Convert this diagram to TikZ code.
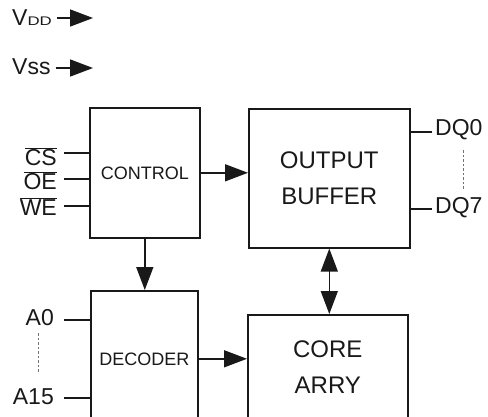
\documentclass[tikz,border=0pt]{standalone}
\usepackage{fontspec}
\setmainfont{Liberation Sans}
\usetikzlibrary{arrows.meta,calc}
\newcommand{\barlbl}[1]{\ensuremath{\overline{\hbox{#1}}}}
\begin{document}
\begin{tikzpicture}[x=1pt,y=-1pt,
  every node/.style={text=black!90},
  box/.style={draw=black!90,line width=1.6pt,inner sep=0pt,align=center,anchor=north west},
  small/.style={font=\fontsize{18}{20}\selectfont},
  big/.style={font=\fontsize{24}{36}\selectfont},
  lbl/.style={font=\fontsize{23}{25}\selectfont,inner sep=0pt},
  wire/.style={draw=black!90,line width=1.5pt},
  arr/.style={wire,-{Triangle[length=23pt,width=17pt]}},
  darr/.style={wire,{Triangle[length=23pt,width=17pt]}-{Triangle[length=23pt,width=17pt]}},
  dots/.style={draw=black!55,line width=0.9pt,dash pattern=on 2.5pt off 2pt}]
\useasboundingbox (0,0) rectangle (488,416);
\clip (0,0) rectangle (488,416);
\fill[white] (0,0) rectangle (488,416);
% power labels
\node[lbl,anchor=west] (vdd) at (12,18) {V\scalebox{1.05}[0.78]{\fontsize{16}{17}\selectfont DD}};
\coordinate (vddtip) at (93,18);
\draw[arr] (vdd.east) ++(5,0) coordinate (vdds) -- (vddtip);
\node[lbl,anchor=west] (vss) at (12,66.5) {Vss};
\coordinate (vsstip) at (93,68);
\draw[arr] (vss.east |- vsstip) ++(5,0) -- (vsstip);
% boxes
\node[box,small,minimum width=110pt,minimum height=130pt] (control) at (89,107) {CONTROL};
\node[box,big,minimum width=161pt,minimum height=139pt] (output) at (248,108) {OUTPUT\\BUFFER};
\node[box,small,minimum width=107pt,minimum height=136pt] (decoder) at (90,290) {DECODER};
\node[box,big,minimum width=160pt,minimum height=104pt] (core) at (247,314) {CORE\\ARRY};
% connectors
\draw[arr] (control.east) -- (control.east -| output.west);
\draw[arr] (control.south) -- (control.south |- decoder.north);
\draw[arr] (decoder.east) -- (decoder.east -| core.west);
\draw[darr] (output.south) -- (output.south |- core.north);
% control inputs
\coordinate (cs) at (64,153);
\coordinate (oe) at (64,179);
\coordinate (we) at (64,206);
\draw[wire] (cs) -- (cs -| control.west);
\draw[wire] (oe) -- (oe -| control.west);
\draw[wire] (we) -- (we -| control.west);
\node[lbl,anchor=east] (cslbl) at (57,157) {\barlbl{CS}};
\node[lbl,anchor=east] (oelbl) at (57,181) {\barlbl{OE}};
\node[lbl,anchor=east] (welbl) at (57,207) {\barlbl{WE}};
% outputs
\coordinate (dq0) at (432,132);
\coordinate (dq7) at (432,209);
\draw[wire] (dq0 -| output.east) -- (dq0);
\draw[wire] (dq7 -| output.east) -- (dq7);
\node[lbl,anchor=west] (dq0lbl) at (435,130) {DQ0};
\node[lbl,anchor=west] (dq7lbl) at (435,208) {DQ7};
\coordinate (dqa) at (463,150);
\coordinate (dqb) at (463,190);
\draw[dots] (dqa) -- (dqb);
% address
\coordinate (a0) at (64,320);
\coordinate (a15) at (64,398);
\draw[wire] (a0) -- (a0 -| decoder.west);
\draw[wire] (a15) -- (a15 -| decoder.west);
\node[lbl,anchor=east] (a0lbl) at (54,318) {A0};
\node[lbl,anchor=east] (a15lbl) at (54,397) {A15};
\coordinate (aa) at (38,333);
\coordinate (ab) at (38,373);
\draw[dots] (aa) -- (ab);
\end{tikzpicture}
\end{document}
